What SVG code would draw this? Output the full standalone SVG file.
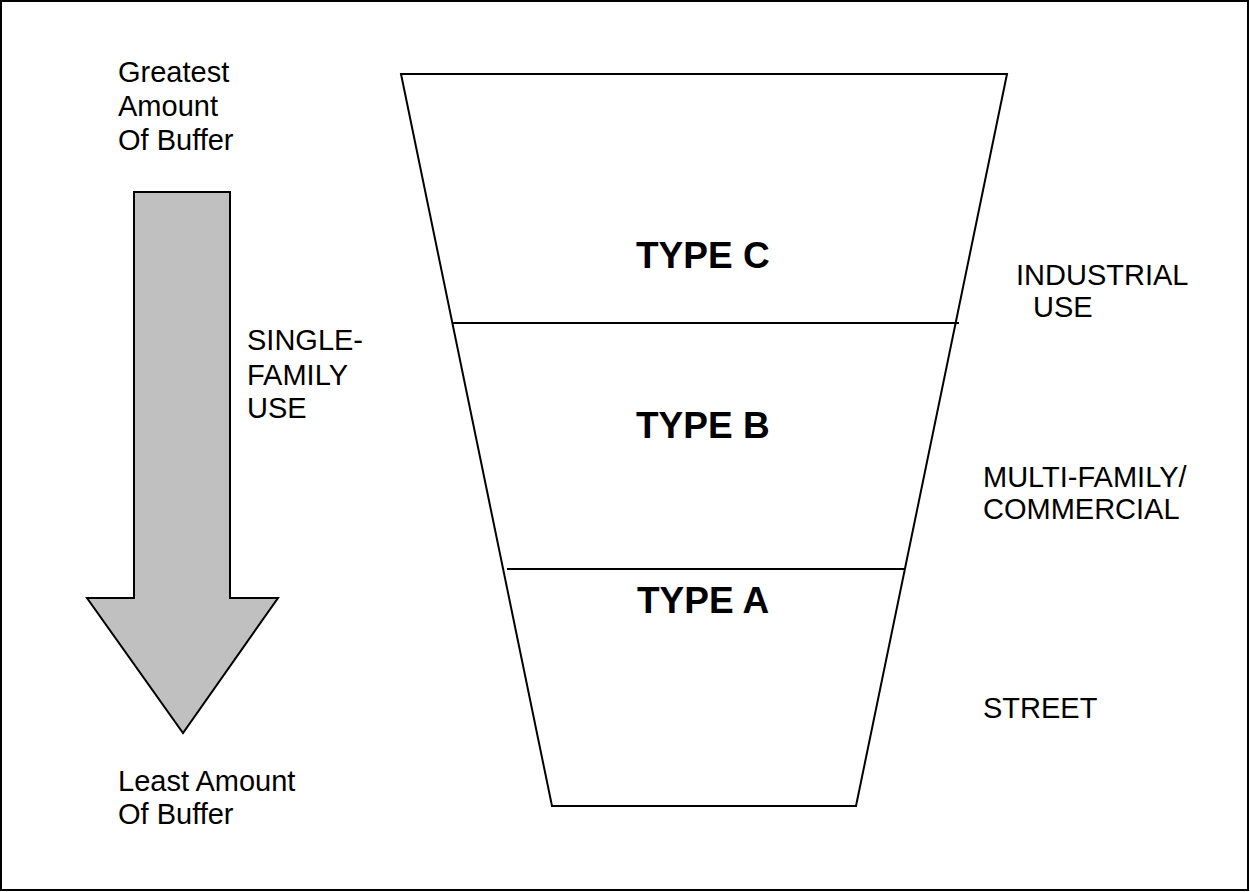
<svg xmlns="http://www.w3.org/2000/svg" width="1250" height="892" viewBox="0 0 1250 892">
<style>
.t{font-family:"Liberation Sans",Arial,sans-serif;font-size:29px;fill:#000}
.b{font-family:"Liberation Sans",Arial,sans-serif;font-size:37px;font-weight:bold;fill:#000}
.ln{stroke:#000;stroke-width:2;fill:none}
</style>
<rect x="0" y="0" width="1250" height="892" fill="#fff"/>
<rect x="1" y="1" width="1247" height="889" fill="none" stroke="#000" stroke-width="2"/>
<g id="arrow">
<polygon points="134,192 230,192 230,598 278,598 183,733 87,598 134,598" fill="#c0c0c0" stroke="#000" stroke-width="2" stroke-linejoin="miter"/>
</g>
<g id="greatest">
<text class="t" x="118" y="82">Greatest</text>
<text class="t" x="118" y="116">Amount</text>
<text class="t" x="118" y="150">Of Buffer</text>
</g>
<g id="least">
<text class="t" x="118" y="791">Least Amount</text>
<text class="t" x="118" y="824">Of Buffer</text>
</g>
<g id="single-family">
<text class="t" x="247" y="350">SINGLE-</text>
<text class="t" x="247" y="385">FAMILY</text>
<text class="t" x="247" y="418">USE</text>
</g>
<g id="funnel">
<polygon class="ln" points="401,74 1007,74 856,806 552,806"/>
</g>
<g id="connectors">
<line class="ln" x1="453" y1="323" x2="959" y2="323"/>
<line class="ln" x1="507" y1="569" x2="904" y2="569"/>
</g>
<g id="type-c"><text class="b" x="636" y="268">TYPE C</text></g>
<g id="type-b"><text class="b" x="636" y="438">TYPE B</text></g>
<g id="type-a"><text class="b" x="637" y="613">TYPE A</text></g>
<g id="industrial">
<text class="t" x="1016" y="285">INDUSTRIAL</text>
<text class="t" x="1033" y="317">USE</text>
</g>
<g id="multi-family">
<text class="t" x="983" y="487">MULTI-FAMILY/</text>
<text class="t" x="983" y="519">COMMERCIAL</text>
</g>
<g id="street"><text class="t" x="983" y="718">STREET</text></g>
</svg>
